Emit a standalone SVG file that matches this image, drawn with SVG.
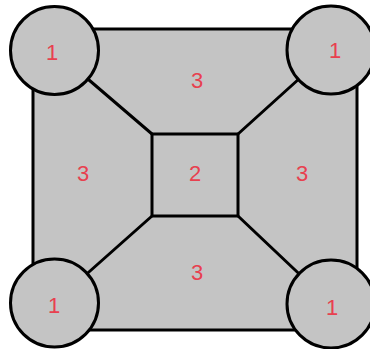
<svg xmlns="http://www.w3.org/2000/svg" width="370" height="349" viewBox="0 0 370 349">
<style>
.shape{fill:#c4c4c4;stroke:#000;stroke-width:3;}
.conn{stroke:#000;stroke-width:3;fill:none;stroke-linecap:round;}
.lbl{font-family:"Liberation Sans",Arial,sans-serif;font-size:22px;fill:#e8404f;text-anchor:middle;}
</style>
<rect width="370" height="349" fill="#fff"/>
<g id="outer">
<rect class="shape" x="33" y="29" width="324" height="301"/>
</g>
<g id="connectors">
<line class="conn" x1="54" y1="50" x2="152" y2="134"/>
<line class="conn" x1="331" y1="50" x2="238" y2="134"/>
<line class="conn" x1="54" y1="303" x2="152" y2="216"/>
<line class="conn" x1="331" y1="304" x2="238" y2="216"/>
</g>
<g id="center">
<rect class="shape" x="152" y="134" width="86" height="82"/>
<text class="lbl" x="195" y="181">2</text>
</g>
<g id="region-top"><text class="lbl" x="197" y="88">3</text></g>
<g id="region-left"><text class="lbl" x="83" y="181">3</text></g>
<g id="region-right"><text class="lbl" x="302" y="181">3</text></g>
<g id="region-bottom"><text class="lbl" x="197" y="280">3</text></g>
<g id="corner-tl">
<circle class="shape" cx="54.5" cy="50.5" r="44"/>
<text class="lbl" x="52" y="60">1</text>
</g>
<g id="corner-tr">
<circle class="shape" cx="331" cy="50" r="44"/>
<text class="lbl" x="335" y="58">1</text>
</g>
<g id="corner-bl">
<circle class="shape" cx="54.5" cy="303" r="44"/>
<text class="lbl" x="54" y="313">1</text>
</g>
<g id="corner-br">
<circle class="shape" cx="331" cy="304" r="44"/>
<text class="lbl" x="332" y="315">1</text>
</g>
</svg>
